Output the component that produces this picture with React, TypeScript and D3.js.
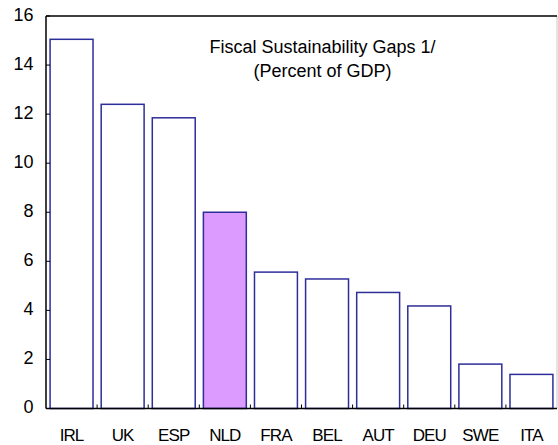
import React from "react";
import * as d3 from "d3";

const categories = ["IRL", "UK", "ESP", "NLD", "FRA", "BEL", "AUT", "DEU", "SWE", "ITA"];
const values = [15.05, 12.4, 11.85, 8.0, 5.56, 5.28, 4.73, 4.18, 1.81, 1.39];
const highlighted = ["NLD"];
const yTicks = [0, 2, 4, 6, 8, 10, 12, 14, 16];
const titleLines = ["Fiscal Sustainability Gaps 1/", "(Percent of GDP)"];

const W = 558;
const H = 445;
const left = 46;
const right = 557;
const top = 16;
const bottom = 408.5;

export default function App() {
  const x = d3.scaleBand<string>().domain(categories).range([left, right]).paddingInner(0.16).paddingOuter(0.08);
  const y = d3.scaleLinear().domain([0, 16]).range([bottom, top]);
  const step = (right - left) / categories.length;
  const font = "Arial, 'Liberation Sans', sans-serif";

  return (
    <svg width={W} height={H} style={{ position: "absolute", left: 0, top: 0, background: "#fff" }} fontFamily={font}>
      {/* frame */}
      <line x1={right} x2={right} y1={top} y2={bottom} stroke="#c8c8c8" strokeWidth={1} />
      <line x1={left} x2={right} y1={top} y2={top} stroke="#000" strokeWidth={1.5} />
      {/* bars */}
      {categories.map((c, i) => (
        <rect
          key={c}
          x={x(c)!}
          y={y(values[i])}
          width={x.bandwidth()}
          height={y(0) - y(values[i])}
          fill={highlighted.includes(c) ? "#DB9BFF" : "#fff"}
          stroke="#2E2E9A"
          strokeWidth={1.5}
        />
      ))}
      {/* y axis */}
      <line x1={left} x2={left} y1={top} y2={bottom} stroke="#000" strokeWidth={1.5} />
      {yTicks.map((t) => (
        <g key={t}>
          <line x1={left} x2={left + 4} y1={y(t)} y2={y(t)} stroke="#000" strokeWidth={1} />
          <text x={33.5} y={y(t) - 1.5} textAnchor="end" dominantBaseline="central" fontSize={18} fill="#000">
            {t}
          </text>
        </g>
      ))}
      {/* x axis */}
      <line x1={left} x2={right} y1={bottom} y2={bottom} stroke="#000" strokeWidth={1.5} />
      {categories.map((c, i) => (
        <g key={c}>
          {i > 0 && (
            <line x1={left + step * i} x2={left + step * i} y1={bottom} y2={bottom - 4} stroke="#000" strokeWidth={1} />
          )}
          <text x={x(c)! + x.bandwidth() / 2} y={435.5} textAnchor="middle" dominantBaseline="central" fontSize={17} fill="#000" letterSpacing={-0.9}>
            {c}
          </text>
        </g>
      ))}
      {/* title */}
      {titleLines.map((l, i) => (
        <text key={l} x={322.5} y={47 + i * 23.5} textAnchor="middle" dominantBaseline="central" fontSize={18} fill="#000">
          {l}
        </text>
      ))}
    </svg>
  );
}
